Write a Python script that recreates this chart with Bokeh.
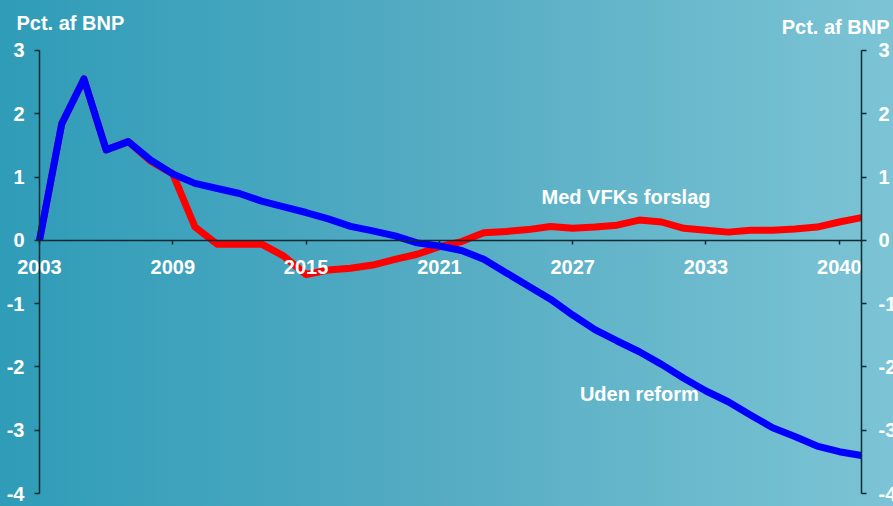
from bokeh.plotting import figure
from bokeh.models import (LinearAxis, Range1d, FixedTicker, Label,
                          GlobalInlineStyleSheet)
from bokeh.embed import file_html
from bokeh.resources import INLINE

# ---- data ----
years = list(range(2003, 2041))
uden_reform = [0.00, 1.84, 2.55, 1.43, 1.56, 1.27, 1.05, 0.90, 0.82, 0.74,
               0.62, 0.53, 0.44, 0.34, 0.22, 0.15, 0.07, -0.04, -0.09, -0.16,
               -0.30, -0.51, -0.72, -0.93, -1.18, -1.41, -1.59, -1.76, -1.96,
               -2.18, -2.38, -2.55, -2.76, -2.96, -3.10, -3.25, -3.34, -3.40]
med_vfks = [0.00, 1.84, 2.55, 1.43, 1.56, 1.25, 1.05, 0.21, -0.06, -0.06,
            -0.06, -0.25, -0.54, -0.47, -0.44, -0.39, -0.30, -0.22, -0.10,
            -0.02, 0.12, 0.14, 0.17, 0.22, 0.19, 0.21, 0.24, 0.32, 0.29,
            0.19, 0.16, 0.13, 0.16, 0.16, 0.18, 0.21, 0.29, 0.36]
x_tick_labels = ["2003", "2009", "2015", "2021", "2027", "2033", "2040"]
y_ticks = [-4, -3, -2, -1, 0, 1, 2, 3]
unit_label = "Pct. af BNP"
series_names = ["Med VFKs forslag", "Uden reform"]

FONT = "Liberation Sans"
x_ticks = years[::6]
x0, x1 = years[0], years[-1]
y0, y1 = y_ticks[0], y_ticks[-1]

# frame covers whole canvas; axes are placed at fixed data locations
W, H = 893, 506
PX_X = 22.216   # px per year
PX_Y = 63.286   # px per unit
p = figure(width=W, height=H,
           x_range=Range1d(x0 - 39 / PX_X, x1 + 32 / PX_X),
           y_range=Range1d(y0 - 13 / PX_Y, y1 + 50 / PX_Y),
           output_backend="svg", toolbar_location=None,
           x_axis_location=None, y_axis_location=None,
           min_border_left=0, min_border_right=0,
           min_border_top=0, min_border_bottom=0)
p.background_fill_alpha = 0
p.border_fill_alpha = 0
p.outline_line_color = None
p.grid.visible = False
p.stylesheets = [GlobalInlineStyleSheet(css="html, body { background: linear-gradient(to right, #2f9cb8 0%, #55acc3 50%, #7cc4d5 100%) fixed; }")]

AX_COLOR = "#0d2a33"

def style(ax, tick_out, standoff):
    ax.minor_tick_line_color = None
    ax.major_tick_in = 0
    ax.major_tick_out = tick_out
    ax.axis_line_color = AX_COLOR
    ax.axis_line_width = 1.5
    ax.major_tick_line_color = AX_COLOR
    ax.major_tick_line_width = 1.5
    ax.major_label_text_color = "white"
    ax.major_label_text_font = FONT
    ax.major_label_text_font_style = "bold"
    ax.major_label_text_font_size = "20px"
    ax.major_label_standoff = standoff

xa = LinearAxis(fixed_location=0, bounds=(x0, x1),
                ticker=FixedTicker(ticks=x_ticks),
                major_label_overrides={t: l for t, l in zip(x_ticks, x_tick_labels)})
style(xa, 4, 16)
p.add_layout(xa, "below")

ylabels = {t: str(t) for t in y_ticks}
ya = LinearAxis(fixed_location=x0, bounds=(y0, y1),
                ticker=FixedTicker(ticks=y_ticks), major_label_overrides=ylabels)
style(ya, 5, 10)
p.add_layout(ya, "left")

ra = LinearAxis(fixed_location=x1, bounds=(y0, y1),
                ticker=FixedTicker(ticks=y_ticks), major_label_overrides=ylabels)
style(ra, 5, 12)
p.add_layout(ra, "right")

# lines
p.line(years, med_vfks, line_color="#ff0000", line_width=7, line_join="round")
p.line(years, uden_reform, line_color="#0000ff", line_width=7, line_join="round")

def lab(x, y, text, xo=0, yo=0, align="center", baseline="middle", size="20px"):
    p.add_layout(Label(x=x, y=y, text=text, x_offset=xo, y_offset=yo,
                       text_align=align, text_baseline=baseline,
                       text_color="white", text_font=FONT,
                       text_font_style="bold", text_font_size=size))

lab(x0, y1, unit_label, xo=-23, yo=27, align="left", baseline="alphabetic")
lab(x1, y1, unit_label, xo=28, yo=23, align="right", baseline="alphabetic")
lab(2029.4, 0.68, series_names[0])
lab(2030.0, -2.43, series_names[1])

open("out.html", "w").write(file_html(p, INLINE))
